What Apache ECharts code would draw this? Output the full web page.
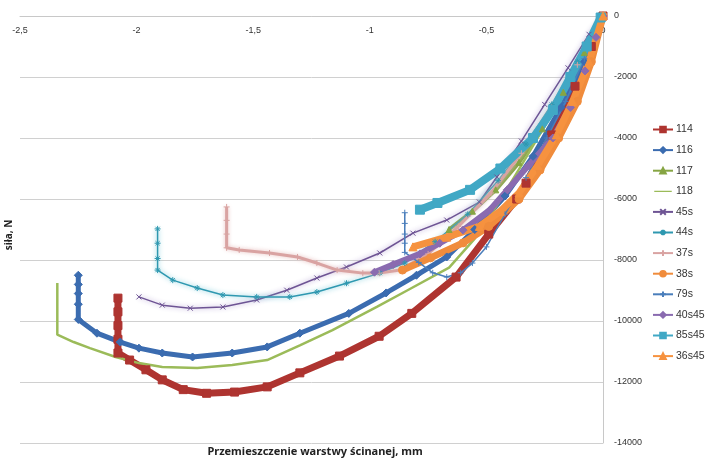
<!DOCTYPE html>
<html>
<head>
<meta charset="utf-8">
<script src="https://cdn.jsdelivr.net/npm/echarts@6/dist/echarts.min.js"></script>
<style>
  html, body { margin: 0; padding: 0; background: #fff; }
  #chart { width: 705px; height: 459px; }
</style>
</head>
<body>
<div id="chart"></div>
<script>
  // [przemieszczenie mm, siła N]
  var d114 = [[-2.08,-9250],[-2.08,-9700],[-2.08,-10150],[-2.08,-10600],[-2.08,-11050],[-2.03,-11280],[-1.96,-11600],[-1.89,-11930],[-1.80,-12250],[-1.70,-12370],[-1.58,-12330],[-1.44,-12160],[-1.30,-11700],[-1.13,-11150],[-0.96,-10500],[-0.82,-9750],[-0.63,-8560],[-0.49,-7150],[-0.37,-6000],[-0.33,-5480],[-0.22,-3900],[-0.12,-2300],[-0.05,-1000],[0,0]];
  var d116 = [[-2.25,-8500],[-2.25,-8800],[-2.25,-9100],[-2.25,-9450],[-2.25,-9950],[-2.17,-10400],[-2.07,-10690],[-1.99,-10890],[-1.89,-11050],[-1.76,-11180],[-1.59,-11050],[-1.44,-10850],[-1.30,-10400],[-1.09,-9750],[-0.93,-9080],[-0.80,-8500],[-0.67,-7900],[-0.55,-7000],[-0.42,-5900],[-0.30,-4600],[-0.18,-3000],[-0.08,-1500],[0,0]];
  var d117 = [[-0.66,-7000],[-0.56,-6400],[-0.46,-5700],[-0.36,-4800],[-0.26,-3700],[-0.17,-2500],[-0.08,-1200],[0,0]];
  var d118 = [[-2.34,-8750],[-2.34,-9100],[-2.34,-9500],[-2.34,-10000],[-2.34,-10450],[-2.27,-10690],[-2.20,-10890],[-2.09,-11180],[-1.99,-11380],[-1.89,-11510],[-1.74,-11540],[-1.59,-11440],[-1.44,-11280],[-1.30,-10800],[-1.16,-10300],[-0.97,-9540],[-0.84,-9000],[-0.66,-8250],[-0.55,-7300],[-0.45,-6150],[-0.35,-4900],[-0.25,-3600],[-0.15,-2200],[-0.06,-800],[0,0]];
  var d45s = [[-1.99,-9210],[-1.89,-9480],[-1.77,-9580],[-1.63,-9540],[-1.485,-9310],[-1.356,-8990],[-1.227,-8590],[-1.10,-8230],[-0.957,-7770],[-0.815,-7120],[-0.67,-6690],[-0.53,-6100],[-0.455,-5280],[-0.35,-4100],[-0.25,-2900],[-0.15,-1700],[-0.06,-600],[0,0]];
  var d44s = [[-1.91,-6980],[-1.91,-7450],[-1.91,-7950],[-1.91,-8330],[-1.845,-8660],[-1.74,-8920],[-1.63,-9150],[-1.485,-9210],[-1.343,-9210],[-1.227,-9050],[-1.10,-8760],[-0.957,-8430],[-0.85,-8100],[-0.72,-7400],[-0.58,-6500],[-0.45,-5400],[-0.33,-4200],[-0.22,-2900],[-0.11,-1500],[0,0]];
  var d37s = [[-1.614,-6260],[-1.614,-6700],[-1.614,-7150],[-1.614,-7600],[-1.56,-7670],[-1.43,-7770],[-1.31,-7900],[-1.227,-8100],[-1.14,-8330],[-1.03,-8430],[-0.96,-8430],[-0.87,-8330],[-0.75,-7800],[-0.62,-6900],[-0.48,-5800],[-0.35,-4500],[-0.22,-3000],[-0.11,-1600],[0,0]];
  var d38s = [[-0.86,-8330],[-0.74,-7930],[-0.60,-7440],[-0.49,-6900],[-0.36,-6000],[-0.27,-5050],[-0.19,-4000],[-0.11,-2800],[-0.05,-1500],[0,0]];
  var d79s = [[-0.85,-6450],[-0.85,-6800],[-0.85,-7150],[-0.85,-7450],[-0.85,-7750],[-0.79,-8080],[-0.73,-8420],[-0.67,-8560],[-0.61,-8420],[-0.56,-8100],[-0.50,-7570],[-0.42,-6500],[-0.33,-5300],[-0.24,-4000],[-0.16,-2800],[-0.08,-1400],[0,0]];
  var d40s45 = [[-0.98,-8400],[-0.90,-8150],[-0.785,-7800],[-0.70,-7450],[-0.60,-7020],[-0.485,-6360],[-0.41,-5700],[-0.32,-4900],[-0.215,-4000],[-0.14,-3000],[-0.077,-1800],[-0.03,-700],[0,0]];
  var d85s45 = [[-0.785,-6350],[-0.71,-6130],[-0.57,-5700],[-0.44,-5000],[-0.30,-4000],[-0.215,-3080],[-0.14,-2000],[-0.07,-1000],[-0.01,-50]];
  var d36s45 = [[-0.815,-7570],[-0.67,-7250],[-0.53,-6900],[-0.44,-6400],[-0.36,-5800],[-0.28,-4900],[-0.20,-3900],[-0.13,-2800],[-0.06,-1500],[0,0]];

  var nazwy = ['114', '116', '117', '118', '45s', '44s', '37s', '38s', '79s', '40s45', '85s45', '36s45'];

  var xMin = -2.5, xMax = 0, xStep = 0.5;
  var yMin = -14000, yMax = 0, yStep = 2000;

  var symX = 'path://M0,0L10,10M10,0L0,10';
  var symStar = 'path://M5,0L5,10M0,5L10,5M1.5,1.5L8.5,8.5M8.5,1.5L1.5,8.5';
  var symPlus = 'path://M5,0L5,10M0,5L10,5';
  // sama linia w legendzie (118 nie ma znacznika)
  var iconLinia = 'path://M0,0L0.01,0L0.01,0.01Z M0,3.3L20,3.3L20,4.7L0,4.7Z M0,8L0.01,8L0.01,7.99Z';

  function seria(name, data, color, symbol, symSize, width, extra) {
    var s = {
      name: name,
      type: 'line',
      data: data,
      symbol: symbol,
      symbolSize: symSize,
      showSymbol: symbol !== 'none',
      smooth: false,
      animation: false,
      itemStyle: { color: color, borderColor: color, borderWidth: 1 },
      lineStyle: { color: color, width: width },
      emphasis: { disabled: true }
    };
    if (extra) {
      for (var k in extra) s[k] = extra[k];
    }
    return s;
  }

  var legendData = nazwy.map(function (n) {
    if (n === '118') return { name: n, icon: iconLinia, itemStyle: { borderWidth: 0 } };
    return { name: n };
  });

  var chart = echarts.init(document.getElementById('chart'));
  chart.setOption({
    backgroundColor: '#fff',
    animation: false,
    grid: { left: 20, right: 102, top: 16, bottom: 16 },
    legend: {
      orient: 'vertical',
      left: 652,
      top: 124,
      itemWidth: 20,
      itemHeight: 7,
      itemGap: 9.6,
      padding: 0,
      textStyle: { fontFamily: 'Liberation Sans', fontSize: 10.5, color: '#333', padding: [0, 0, 0, -2] },
      lineStyle: { width: 2, shadowBlur: 0 },
      data: legendData
    },
    xAxis: {
      type: 'value',
      position: 'top',
      min: xMin, max: xMax, interval: xStep,
      axisLine: { show: true, onZero: false, lineStyle: { color: '#c8c8c8' } },
      axisTick: { show: false },
      splitLine: { show: false },
      axisLabel: {
        inside: true, margin: 10,
        fontFamily: 'Liberation Sans', fontSize: 9, color: '#333',
        formatter: function (v) { return String(v).replace('.', ','); }
      }
    },
    yAxis: {
      type: 'value',
      position: 'right',
      min: yMin, max: yMax, interval: yStep,
      axisLine: { show: true, lineStyle: { color: '#c8c8c8' } },
      axisTick: { show: false },
      splitLine: { show: true, lineStyle: { color: '#d0d0d0' } },
      axisLabel: {
        margin: 11, fontFamily: 'Liberation Sans', fontSize: 9, color: '#333',
        formatter: function (v) { return String(v); }
      }
    },
    graphic: [
      {
        type: 'text', x: 9, y: 235, rotation: Math.PI / 2,
        style: { text: 'siła, N', fontFamily: 'Noto Sans', fontSize: 10, fontWeight: 'bold', fill: '#222', align: 'center', verticalAlign: 'middle' }
      },
      {
        type: 'text', x: 315, y: 452,
        style: { text: 'Przemieszczenie warstwy ścinanej, mm', fontFamily: 'Noto Sans', fontSize: 11, fontWeight: 'bold', fill: '#222', align: 'center', verticalAlign: 'middle' }
      }
    ],
    series: [
      seria('114', d114, '#AE3430', 'rect', 8, 7),
      seria('116', d116, '#3B6CB0', 'diamond', 8, 5),
      seria('117', d117, '#86A543', 'triangle', 6, 4),
      seria('118', d118, '#9BBB59', 'none', 0, 2.5),
      seria('45s', d45s, '#6E5494', symX, 5, 1.5, { lineStyle: { color: '#6E5494', width: 1.5, shadowColor: 'rgba(170,150,205,0.9)', shadowBlur: 5 } }),
      seria('44s', d44s, '#2E98B0', symStar, 6, 1.5, { lineStyle: { color: '#2E98B0', width: 1.5, shadowColor: 'rgba(90,190,210,0.9)', shadowBlur: 5 } }),
      seria('37s', d37s, '#D9A3A2', symPlus, 6, 3, { lineStyle: { color: '#D9A3A2', width: 3, shadowColor: 'rgba(230,185,184,0.9)', shadowBlur: 4 } }),
      seria('38s', d38s, '#F08C3C', 'circle', 8, 7),
      seria('79s', d79s, '#4A7EBB', symPlus, 6, 1.5),
      seria('40s45', d40s45, '#8A6BB0', 'diamond', 8, 6),
      seria('85s45', d85s45, '#41A8C5', 'rect', 9, 8),
      seria('36s45', d36s45, '#F6923F', 'triangle', 8, 7)
    ]
  });
</script>
</body>
</html>
